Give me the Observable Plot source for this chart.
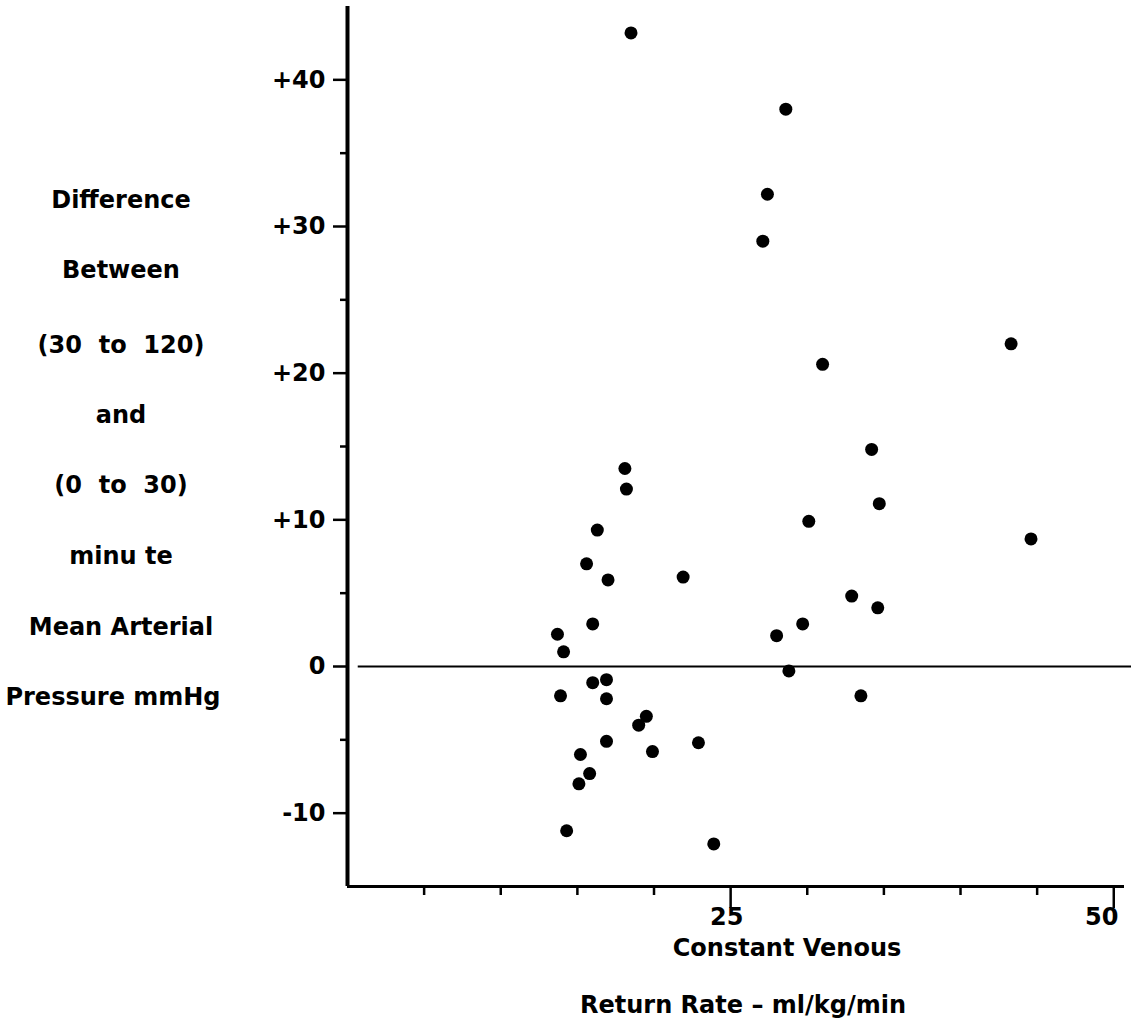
<!DOCTYPE html>
<html>
<head>
<meta charset="utf-8">
<script src="https://cdn.jsdelivr.net/npm/d3@7"></script>
<script src="https://cdn.jsdelivr.net/npm/@observablehq/plot@0.6"></script>
<style>
  body { margin: 0; background: #fff; }
  #wrap { position: relative; width: 1131px; height: 1036px; font-family: "DejaVu Sans", sans-serif; font-weight: bold; color: #000; }
  #chart { position: absolute; left: 0; top: 0; }
  .yt { position: absolute; left: 0; width: 242px; text-align: center; font-size: 24px; line-height: 1; transform: translateY(-50%); white-space: pre; }
  .xt { position: absolute; text-align: center; font-size: 24px; line-height: 1; transform: translate(-50%, -50%); white-space: pre; }
</style>
</head>
<body>
<div id="wrap">
  <div id="chart"></div>
</div>
<script>
// Constant venous return rate (ml/kg/min)
const returnRate = [18.5, 28.6, 27.4, 27.1, 31.0, 43.3, 34.2, 18.1, 18.2, 34.7,
                    30.1, 44.6, 16.3, 15.6, 17.0, 21.9, 32.9, 34.6, 16.0, 13.7,
                    14.1, 29.7, 28.0, 28.8, 13.9, 16.0, 16.9, 16.9, 33.5, 19.5,
                    19.0, 16.9, 19.9, 22.9, 15.2, 15.8, 15.1, 14.3, 23.9];
// Difference in mean arterial pressure (mmHg)
const pressureDiff = [43.2, 38.0, 32.2, 29.0, 20.6, 22.0, 14.8, 13.5, 12.1, 11.1,
                      9.9, 8.7, 9.3, 7.0, 5.9, 6.1, 4.8, 4.0, 2.9, 2.2,
                      1.0, 2.9, 2.1, -0.3, -2.0, -1.1, -0.9, -2.2, -2.0, -3.4,
                      -4.0, -5.1, -5.8, -5.2, -6.0, -7.3, -8.0, -11.2, -12.1];

const yMajorTicks = [-10, 0, 10, 20, 30, 40];
const yMinorTicks = [-5, 5, 15, 25, 35];
const xMinorTicks = [5, 10, 15, 20, 30, 35, 40, 45];
const xLabeledTicks = [25, 50];

const yTitleLines = ["Difference", "Between", "(30  to  120)", "and", "(0  to  30)", "minu te", "Mean Arterial", "Pressure mmHg"];
const xTitleLines = ["Constant Venous", "Return Rate \u2013 ml/kg/min"];

const data = returnRate.map((x, i) => ({x, y: pressureDiff[i]}));

const chart = Plot.plot({
  width: 1131,
  height: 1036,
  marginLeft: 347,
  marginRight: 7,
  marginTop: 6,
  marginBottom: 150,
  x: {domain: [0, 50.7]},
  y: {domain: [-15, 45]},
  style: {fontFamily: "DejaVu Sans, sans-serif", fontSize: "24px", fontWeight: "bold", background: "#fff", color: "#000"},
  marks: [
    Plot.axisY(yMajorTicks, {tickSize: 14, tickPadding: 8, strokeWidth: 2.5, tickFormat: d => d > 0 ? `+${d}` : `${d}`, label: null}),
    Plot.axisY(yMinorTicks, {tickSize: 7, strokeWidth: 2.5, text: null, label: null}),
    Plot.axisX(xMinorTicks, {tickSize: 9, strokeWidth: 2.5, text: null, label: null}),
    Plot.axisX(xLabeledTicks, {tickSize: 22, strokeWidth: 2.5, text: null, label: null}),
    Plot.axisX([xLabeledTicks[0]], {tickSize: 0, tickPadding: 21, dx: -4, label: null}),
    Plot.axisX([xLabeledTicks[1]], {tickSize: 0, tickPadding: 21, dx: -12, label: null}),
    Plot.ruleX([0], {strokeWidth: 4}),
    Plot.ruleY([-15], {x1: 0, x2: 50.7, strokeWidth: 3}),
    Plot.ruleY([0], {x1: 0.7, x2: 51.3, strokeWidth: 2}),
    Plot.dot(data, {x: "x", y: "y", r: 6.5, fill: "#000", stroke: "none"})
  ]
});
document.getElementById("chart").appendChild(chart);

const wrap = document.getElementById("wrap");
const yTitleY = [200, 270, 345, 415, 485, 556, 627, 697];
const yTitleShift = [0, 0, 0, 0, 0, 0, 0, -8];
yTitleLines.forEach((t, i) => {
  const d = document.createElement("div");
  d.className = "yt";
  d.textContent = t;
  d.style.top = yTitleY[i] + "px";
  d.style.left = yTitleShift[i] + "px";
  wrap.appendChild(d);
});
const xTitlePos = [[787, 948], [743, 1005]];
xTitleLines.forEach((t, i) => {
  const d = document.createElement("div");
  d.className = "xt";
  d.textContent = t;
  d.style.left = xTitlePos[i][0] + "px";
  d.style.top = xTitlePos[i][1] + "px";
  wrap.appendChild(d);
});
</script>
</body>
</html>
